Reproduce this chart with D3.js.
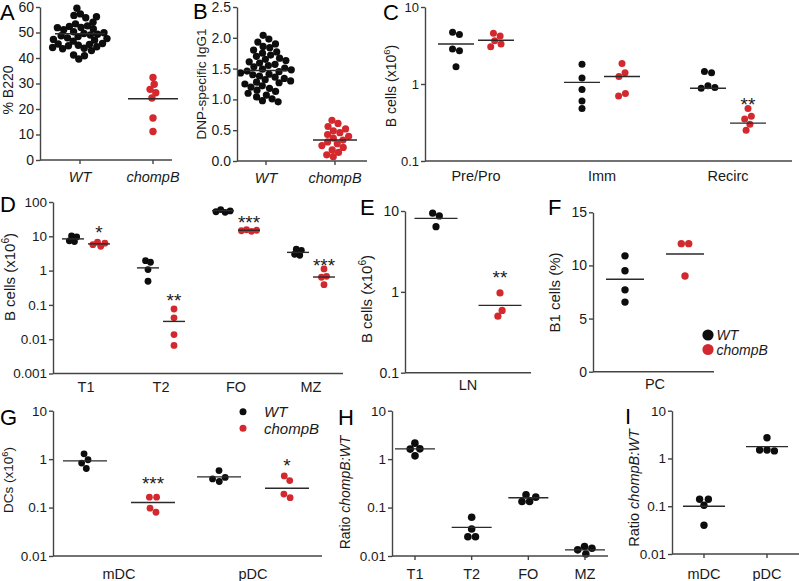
<!DOCTYPE html>
<html><head><meta charset="utf-8">
<script src="https://cdn.jsdelivr.net/npm/d3@7"></script>
<style>body{margin:0;background:#fff} svg{display:block;background:#fff}</style>
</head><body>
<svg id="c" width="799" height="581"></svg>
<script>
// ---------------- DATA ----------------
// Panel A: % B220
const aCategories = ["WT", "chompB"];
const aTicks = [0, 10, 20, 30, 40, 50, 60];
const aTickLabels = ["0", "10", "20", "30", "40", "50", "60"];
const aWT = [59.5, 57.3, 56.7, 56.2, 55.8, 54.0, 53.4, 52.6, 52.4, 52.0, 51.9, 51.4, 51.1, 50.3, 49.9, 49.6, 49.3, 49.0, 48.7, 48.4, 47.9, 47.6, 47.3, 47.0, 46.6, 45.7, 45.5, 45.3, 45.0, 44.8, 44.4, 44.1, 43.8, 43.6, 42.9, 41.2, 40.9, 39.6];
const aChompB = [32.4, 29.7, 27.7, 26.4, 24.3, 16.5, 11.2];
const aMedians = [49.5, 24.0];

// Panel B: DNP-specific IgG1
const bCategories = ["WT", "chompB"];
const bTicks = [0, 0.5, 1, 1.5, 2, 2.5];
const bTickLabels = ["0.0", "0.5", "1.0", "1.5", "2.0", "2.5"];
const bWT = [2.04, 1.98, 1.93, 1.90, 1.86, 1.84, 1.80, 1.77, 1.75, 1.72, 1.70, 1.67, 1.65, 1.63, 1.61, 1.59, 1.57, 1.55, 1.53, 1.51, 1.49, 1.48, 1.46, 1.45, 1.43, 1.41, 1.40, 1.38, 1.36, 1.34, 1.32, 1.30, 1.28, 1.27, 1.25, 1.22, 1.20, 1.18, 1.15, 1.13, 1.10, 1.07, 1.04, 1.01, 0.98, 0.96];
const bChompB = [0.66, 0.61, 0.56, 0.52, 0.49, 0.46, 0.43, 0.40, 0.37, 0.34, 0.31, 0.28, 0.25, 0.22, 0.18, 0.14, 0.10, 0.07];
const bMedians = [1.47, 0.34];

// Panel C: bone marrow B cells (x10^6)
const cCategories = ["Pre/Pro", "Imm", "Recirc"];
const cTicks = [0.1, 1, 10];
const cTickLabels = ["0.1", "1", "10"];
const cWT = [[4.7, 4.4, 2.85, 2.7, 1.68], [1.8, 1.2, 0.85, 0.6, 0.48], [1.45, 1.4, 0.95, 0.9, 0.88]];
const cChompB = [[4.55, 4.2, 3.65, 3.3, 3.05], [1.85, 1.4, 1.25, 0.75, 0.7], [0.48, 0.38, 0.35, 0.3, 0.25]];
const cWTMedians = [3.3, 1.05, 0.88];
const cChompBMedians = [3.7, 1.25, 0.31];
const cStars = ["", "", "**"];
const cStarValues = [null, null, 0.62];

// Panel D: spleen B cells (x10^6)
const dCategories = ["T1", "T2", "FO", "MZ"];
const dTicks = [0.001, 0.01, 0.1, 1, 10, 100];
const dTickLabels = ["0.001", "0.01", "0.1", "1", "10", "100"];
const dWT = [[10.2, 9.6, 7.4, 7.0], [1.95, 1.75, 1.07, 0.49], [60, 55, 52, 50], [4.2, 3.9, 3.0, 2.8]];
const dChompB = [[6.7, 6.3, 5.7, 5.1], [0.076, 0.042, 0.0136, 0.0066], [15.5, 15, 14.5, 14], [1.12, 0.68, 0.64, 0.39]];
const dWTMedians = [8.4, 1.2, 56, 3.4];
const dChompBMedians = [6.0, 0.033, 15, 0.65];
const dStars = ["*", "**", "***", "***"];
const dStarValues = [17.9, 0.175, 35, 1.95];

// Panel E: LN B cells (x10^6)
const eCategories = ["LN"];
const eTicks = [0.1, 1, 10];
const eTickLabels = ["0.1", "1", "10"];
const eWT = [[9.4, 8.7, 6.4]];
const eChompB = [[0.97, 0.59, 0.50]];
const eWTMedians = [8.1];
const eChompBMedians = [0.68];
const eStars = ["**"];
const eStarValues = [1.72];

// Panel F: B1 cells (%)
const fCategories = ["PC"];
const fTicks = [0, 5, 10, 15];
const fTickLabels = ["0", "5", "10", "15"];
const fWT = [[10.9, 9.5, 7.7, 6.55]];
const fChompB = [[12.05, 12.05, 9.0]];
const fWTMedians = [8.7];
const fChompBMedians = [11.07];

// Panel G: DCs (x10^6)
const gCategories = ["mDC", "pDC"];
const gTicks = [0.01, 0.1, 1, 10];
const gTickLabels = ["0.01", "0.1", "1", "10"];
const gWT = [[1.29, 0.97, 0.83, 0.64], [0.58, 0.42, 0.39, 0.345]];
const gChompB = [[0.164, 0.164, 0.097, 0.08], [0.45, 0.36, 0.19, 0.16]];
const gWTMedians = [0.92, 0.43];
const gChompBMedians = [0.127, 0.25];
const gStars = ["***", "*"];
const gStarValues = [0.386, 0.9];

// Panel H: ratio chompB:WT (B cell subsets)
const hCategories = ["T1", "T2", "FO", "MZ"];
const hTicks = [0.01, 0.1, 1, 10];
const hTickLabels = ["0.01", "0.1", "1", "10"];
const hRatio = [[2.14, 1.63, 1.61, 1.17], [0.063, 0.036, 0.025, 0.025], [0.183, 0.164, 0.133, 0.133], [0.0157, 0.0145, 0.0134, 0.011]];
const hMedians = [1.63, 0.039, 0.16, 0.0134];

// Panel I: ratio chompB:WT (DCs)
const iCategories = ["mDC", "pDC"];
const iTicks = [0.01, 0.1, 1, 10];
const iTickLabels = ["0.01", "0.1", "1", "10"];
const iRatio = [[0.14, 0.14, 0.105, 0.04], [2.72, 1.5, 1.5, 1.44]];
const iMedians = [0.1, 1.77];

const legendLabels = ["WT", "chompB"];

// ---------------- DRAWING ----------------
const FONT = '"Liberation Sans", Arial, Helvetica, sans-serif';
const BLACK = "#0d0d0d", RED = "#d3292e", AXIS = "#444", MED = "#2a2a2a", TXT = "#1a1a1a";
const svg = d3.select("#c").attr("font-family", FONT);

function swarm(values, y, cx, collideR, strength) {
  const nodes = values.map((v, i) => ({ v, fy: y(v), y: y(v), x: cx + (i % 2 ? 1 : -1) * 0.3 * (i + 1) }));
  const sim = d3.forceSimulation(nodes)
    .force("x", d3.forceX(cx).strength(strength || 0.12))
    .force("c", d3.forceCollide(collideR).strength(0.9).iterations(4))
    .stop();
  for (let k = 0; k < 400; k++) sim.tick();
  return nodes;
}

function yLabel(g, text, cx, cy, fs, italicPart, sup) {
  const t = g.append("text")
    .attr("transform", `translate(${cx + 0.36 * fs},${cy}) rotate(-90)`)
    .attr("text-anchor", "middle").attr("font-size", fs).attr("fill", TXT);
  t.append("tspan").text(text);
  if (italicPart) t.append("tspan").attr("font-style", "italic").text(italicPart);
  if (sup) {
    t.append("tspan").attr("font-size", fs * 0.68).attr("dy", -fs * 0.38).text(sup);
    t.append("tspan").attr("dy", fs * 0.38).text(")");
  }
}

function panel(p) {
  const g = svg.append("g");
  const y = (p.log ? d3.scaleLog() : d3.scaleLinear()).domain(p.domain).range(p.yRange);
  const x = d3.scalePoint().domain(p.categories).range(p.catRange);
  const yb = p.yRange[0];

  p.groups.forEach(gr => {
    const cx = x(gr.cat) + gr.offset;
    const nodes = swarm(gr.values, y, cx, p.collide, p.strength);
    g.append("g").selectAll("circle").data(nodes).join("circle")
      .attr("cx", d => d.x).attr("cy", d => d.y).attr("r", p.r).attr("fill", gr.color);
    g.append("line")
      .attr("x1", cx - p.medHalf).attr("x2", cx + p.medHalf)
      .attr("y1", y(gr.median)).attr("y2", y(gr.median))
      .attr("stroke", MED).attr("stroke-width", 1.4);
    if (gr.star) {
      g.append("text").attr("x", cx).attr("y", y(gr.starValue) + 0.575 * 19)
        .attr("text-anchor", "middle").attr("font-size", 19).attr("fill", TXT).text(gr.star);
    }
  });

  const ax = d3.axisLeft(y).tickValues(p.ticks).tickFormat((d, i) => p.tickLabels[i])
    .tickSize(4).tickSizeOuter(0).tickPadding(2);
  const ya = g.append("g").attr("transform", `translate(${p.axisX},0)`).call(ax);
  ya.attr("font-family", FONT).attr("font-size", p.tickFs);
  ya.selectAll("path,line").attr("stroke", AXIS).attr("stroke-width", 1.4);
  ya.selectAll("text").attr("fill", TXT);

  g.append("line").attr("x1", p.axisX).attr("x2", p.axisRight).attr("y1", yb).attr("y2", yb)
    .attr("stroke", AXIS).attr("stroke-width", 1.4);
  p.categories.forEach(c => {
    if (p.xTicks) g.append("line").attr("x1", x(c)).attr("x2", x(c)).attr("y1", yb).attr("y2", yb + 4)
      .attr("stroke", AXIS).attr("stroke-width", 1.4);
    g.append("text").attr("x", x(c)).attr("y", yb + p.catDy)
      .attr("text-anchor", "middle").attr("font-size", p.catFs).attr("fill", TXT)
      .attr("font-style", p.catItalic ? "italic" : null).text(c);
  });

  g.append("text").attr("x", p.letter[1]).attr("y", p.letter[2]).attr("font-size", 22)
    .attr("fill", "#000").text(p.letter[0]);
  yLabel(g, p.ylabel[0], p.ylabel[1], p.ylabel[2], p.ylabel[3], p.ylabel[4], p.ylabel[5]);
  return { x, y };
}

function pairGroups(cats, wt, ko, wtMed, koMed, off, stars, starVals) {
  const out = [];
  cats.forEach((c, i) => {
    out.push({ cat: c, offset: -off, values: wt[i], median: wtMed[i], color: BLACK });
    out.push({ cat: c, offset: off, values: ko[i], median: koMed[i], color: RED,
      star: stars ? stars[i] : null, starValue: starVals ? starVals[i] : null });
  });
  return out;
}

// A
panel({
  domain: [0, 60], yRange: [160, 7], ticks: aTicks, tickLabels: aTickLabels, tickFs: 14,
  axisX: 40, axisRight: 172, categories: aCategories, catRange: [80, 153], xTicks: true,
  catDy: 22, catFs: 14.5, catItalic: true, r: 3.7, collide: 3.3, strength: 0.5, medHalf: 25,
  groups: [
    { cat: "WT", offset: 0, values: aWT, median: aMedians[0], color: BLACK },
    { cat: "chompB", offset: 0, values: aChompB, median: aMedians[1], color: RED }
  ],
  letter: ["A", 0, 20], ylabel: ["% B220", 8, 90, 14]
});

// B
panel({
  domain: [0, 2.5], yRange: [161, 7], ticks: bTicks, tickLabels: bTickLabels, tickFs: 14,
  axisX: 237, axisRight: 367, categories: bCategories, catRange: [266, 335], xTicks: true,
  catDy: 22, catFs: 14.5, catItalic: true, r: 3.6, collide: 3.4, strength: 0.15, medHalf: 22,
  groups: [
    { cat: "WT", offset: 0, values: bWT, median: bMedians[0], color: BLACK },
    { cat: "chompB", offset: 0, values: bChompB, median: bMedians[1], color: RED }
  ],
  letter: ["B", 193, 19], ylabel: ["DNP-specific IgG1", 201, 84, 13.5]
});

// C
panel({
  log: true, domain: [0.1, 10], yRange: [161, 7], ticks: cTicks, tickLabels: cTickLabels, tickFs: 13,
  axisX: 425, axisRight: 792, categories: cCategories, catRange: [476, 728], xTicks: false,
  catDy: 20, catFs: 14.5, r: 3.5, collide: 3.6, medHalf: 18,
  groups: pairGroups(cCategories, cWT, cChompB, cWTMedians, cChompBMedians, 20, cStars, cStarValues),
  letter: ["C", 383, 20], ylabel: ["B cells (x10", 390.5, 86, 14, null, "6"]
});

// D
panel({
  log: true, domain: [0.001, 100], yRange: [373.5, 202], ticks: dTicks, tickLabels: dTickLabels, tickFs: 13.5,
  axisX: 53, axisRight: 343, categories: dCategories, catRange: [86, 311], xTicks: false,
  catDy: 18.5, catFs: 14.5, r: 3.4, collide: 2.6, medHalf: 11,
  groups: pairGroups(dCategories, dWT, dChompB, dWTMedians, dChompBMedians, 13, dStars, dStarValues),
  letter: ["D", 0, 212], ylabel: ["B cells (x10", 9.5, 277, 15, null, "6"]
});

// E
panel({
  log: true, domain: [0.1, 10], yRange: [372.7, 211], ticks: eTicks, tickLabels: eTickLabels, tickFs: 14,
  axisX: 405, axisRight: 531, categories: eCategories, catRange: [468, 468], xTicks: false,
  catDy: 17.5, catFs: 14.5, r: 3.6, collide: 3.6, medHalf: 21.5,
  groups: pairGroups(eCategories, eWT, eChompB, eWTMedians, eChompBMedians, 32, eStars, eStarValues),
  letter: ["E", 360, 215], ylabel: ["B cells (x10", 366.7, 299, 15, null, "6"]
});

// F
panel({
  domain: [0, 15], yRange: [371.7, 212.3], ticks: fTicks, tickLabels: fTickLabels, tickFs: 14,
  axisX: 593, axisRight: 714, categories: fCategories, catRange: [655, 655], xTicks: false,
  catDy: 17.5, catFs: 14.5, r: 3.7, collide: 3.7, medHalf: 19,
  groups: pairGroups(fCategories, fWT, fChompB, fWTMedians, fChompBMedians, 30),
  letter: ["F", 548, 215], ylabel: ["B1 cells (%)", 555, 292.5, 15]
});

// G
panel({
  log: true, domain: [0.01, 10], yRange: [556, 410.7], ticks: gTicks, tickLabels: gTickLabels, tickFs: 13.5,
  axisX: 53, axisRight: 322, categories: gCategories, catRange: [119, 253], xTicks: false,
  catDy: 23, catFs: 14.5, r: 3.4, collide: 3.6, medHalf: 22,
  groups: pairGroups(gCategories, gWT, gChompB, gWTMedians, gChompBMedians, 34, gStars, gStarValues),
  letter: ["G", 0, 425], ylabel: ["DCs (x10", 8.5, 480, 13.5, null, "6"]
});

// H
panel({
  log: true, domain: [0.01, 10], yRange: [556, 410.7], ticks: hTicks, tickLabels: hTickLabels, tickFs: 13.5,
  axisX: 392, axisRight: 608, categories: hCategories, catRange: [415, 585], xTicks: true,
  catDy: 23, catFs: 14.5, r: 3.8, collide: 3.8, medHalf: 20,
  groups: hCategories.map((c, i) => ({ cat: c, offset: 0, values: hRatio[i], median: hMedians[i], color: BLACK })),
  letter: ["H", 338, 425], ylabel: ["Ratio ", 345, 492.5, 14, "chompB:WT"]
});

// I
panel({
  log: true, domain: [0.01, 10], yRange: [554, 410.7], ticks: iTicks, tickLabels: iTickLabels, tickFs: 13.5,
  axisX: 672, axisRight: 799, categories: iCategories, catRange: [704, 767], xTicks: true,
  catDy: 25, catFs: 14.5, r: 3.7, collide: 3.7, medHalf: 21,
  groups: iCategories.map((c, i) => ({ cat: c, offset: 0, values: iRatio[i], median: iMedians[i], color: BLACK })),
  letter: ["I", 625, 424], ylabel: ["Ratio ", 634, 488, 14.5, "chompB:WT"]
});

function legend(x0, ys, r, tx, fs) {
  const lg = svg.append("g");
  legendLabels.forEach((lab, i) => {
    lg.append("circle").attr("cx", x0).attr("cy", ys[i]).attr("r", r).attr("fill", i ? RED : BLACK);
    lg.append("text").attr("x", tx).attr("y", ys[i] + 0.36 * fs).attr("font-size", fs)
      .attr("font-style", "italic").attr("fill", TXT).text(lab);
  });
}
legend(708, [335, 349.5], 5.6, 716.5, 14);
legend(243, [411.7, 428.3], 3.5, 264, 15);
</script>
</body></html>
